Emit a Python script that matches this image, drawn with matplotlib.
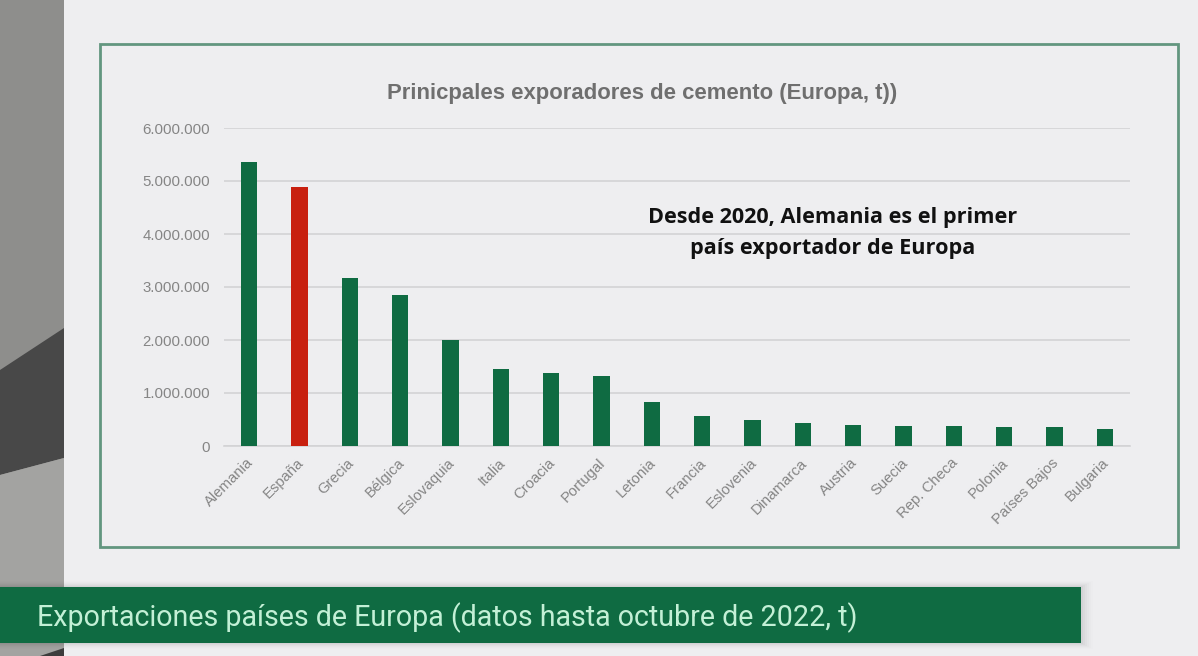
import matplotlib
matplotlib.use("Agg")
import matplotlib.pyplot as plt
from matplotlib.patches import Rectangle, Polygon
from matplotlib.transforms import ScaledTranslation

countries = ["Alemania", "España", "Grecia", "Bélgica", "Eslovaquia", "Italia", "Croacia",
             "Portugal", "Letonia", "Francia", "Eslovenia", "Dinamarca", "Austria", "Suecia",
             "Rep. Checa", "Polonia", "Países Bajos", "Bulgaria"]
exports = [5355000, 4885000, 3170000, 2855000, 1995000, 1460000, 1370000, 1325000, 830000,
           565000, 490000, 425000, 405000, 380000, 380000, 360000, 350000, 320000]
yticks = [0, 1000000, 2000000, 3000000, 4000000, 5000000, 6000000]
title = "Prinicpales exporadores de cemento (Europa, t))"
note = "Desde 2020, Alemania es el primer\npaís exportador de Europa"
banner = "Exportaciones países de Europa (datos hasta octubre de 2022, t)"

W, H = 1198, 656
GREEN = "#0f6b42"
RED = "#c8200f"
BG = "#eeeef0"
GRAY = "#858585"
plt.rcParams["font.family"] = ["Liberation Sans", "DejaVu Sans"]

fig = plt.figure(figsize=(W / 100, H / 100), dpi=100, facecolor=BG)
bg = fig.add_axes([0, 0, 1, 1], zorder=0)
bg.set_xlim(0, W)
bg.set_ylim(H, 0)
bg.axis("off")

# concrete strip on the left
bg.add_patch(Rectangle((0, 0), 64, H, fc="#8e8e8c", ec="none"))
bg.add_patch(Polygon([(0, 370), (64, 328), (64, 458), (0, 475)], fc="#484848", ec="none"))
bg.add_patch(Polygon([(0, 475), (64, 458), (64, 656), (0, 656)], fc="#a3a3a1", ec="none"))
bg.add_patch(Polygon([(40, 656), (64, 648), (64, 656)], fc="#3c3c3c", ec="none"))

# chart frame
bg.add_patch(Rectangle((99.5, 44), 1078, 503, fc="none", ec="#62967f", lw=2.0))

# banner with soft shadow
for i, a in zip(range(12, 0, -2), [0.008, 0.012, 0.016, 0.02, 0.025, 0.03]):
    bg.add_patch(Rectangle((0, 587 - i / 2), 1081 + i, 56 + i, fc="k", alpha=a, ec="none"))
bg.add_patch(Rectangle((0, 587), 1081, 56, fc=GREEN, ec="none"))
bg.text(37, 618, banner, color="#c3f0d6", fontsize=20.6, family="Roboto",
        va="center", ha="left")

# chart
ax = fig.add_axes([224 / W, 1 - 446 / H, 906 / W, 318 / H], zorder=1)
ax.patch.set_alpha(0)
colors = [RED if c == "España" else GREEN for c in countries]
ax.bar(countries, exports, width=0.32, color=colors, zorder=3)
ax.set_xlim(-0.5, len(countries) - 0.5)
ax.set_ylim(0, 6000000)
ax.set_yticks(yticks)
ax.set_yticklabels([f"{v:,}".replace(",", ".") for v in yticks], fontsize=10.8, color=GRAY)
ax.grid(axis="y", color="#d3d3d5", lw=1.2, zorder=0)
ax.set_axisbelow(True)
for s in ["top", "right", "left"]:
    ax.spines[s].set_visible(False)
ax.spines["bottom"].set_color("#d3d3d5")
ax.spines["bottom"].set_linewidth(1.2)
ax.tick_params(axis="both", length=0)
ax.tick_params(axis="y", pad=10)
ax.tick_params(axis="x", pad=7)
shift = ScaledTranslation(-3 / 100, 0, fig.dpi_scale_trans)
for lab in ax.get_xticklabels():
    lab.set_rotation(45)
    lab.set_ha("right")
    lab.set_rotation_mode("anchor")
    lab.set_fontsize(10.7)
    lab.set_color(GRAY)
    lab.set_transform(lab.get_transform() + shift)

bg.text(642, 94, title, color="#6f6f6f", fontsize=15.9, fontweight="bold", ha="center", va="center")
fig.text(833 / W, 1 - 233 / H, note, color="#111111", fontsize=15.6, fontweight="bold",
         family="Open Sans", ha="center", va="center", linespacing=1.66, zorder=5)

fig.savefig("out.png", dpi=100, facecolor=fig.get_facecolor())
